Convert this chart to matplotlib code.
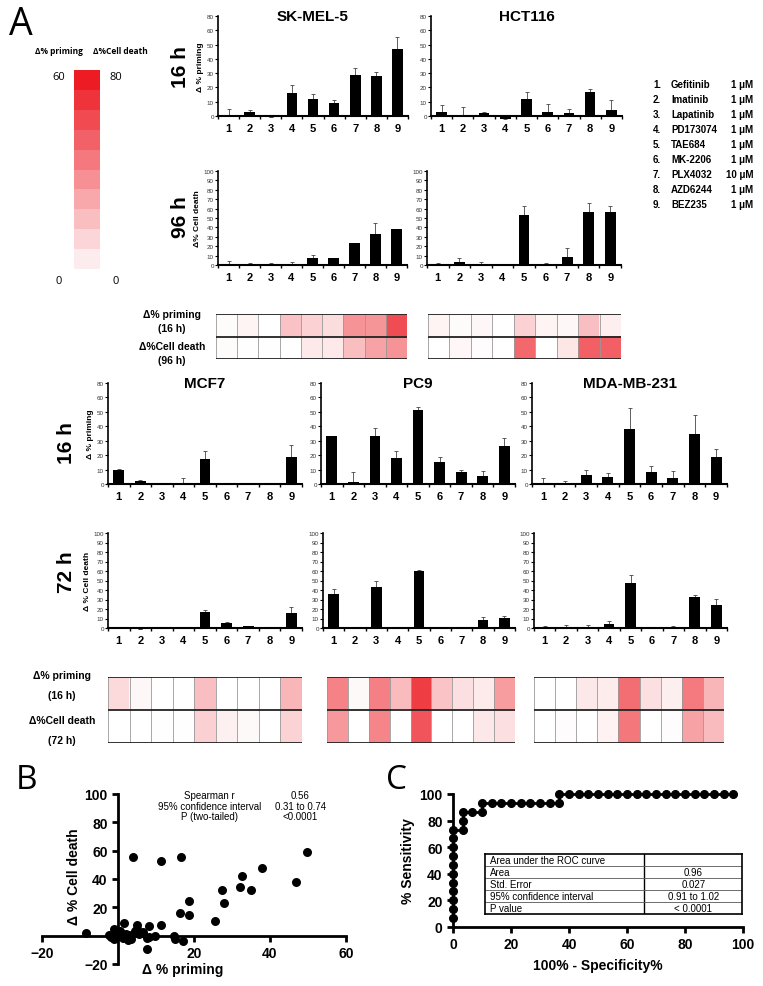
import numpy as np
import matplotlib
matplotlib.use('Agg')
import matplotlib.pyplot as plt
from matplotlib.colors import LinearSegmentedColormap, Normalize
import matplotlib as mpl

W, H = 763, 987
plt.rcParams['font.family'] = ['Liberation Sans', 'DejaVu Sans']

drugs = ['Gefitinib', 'Imatinib', 'Lapatinib', 'PD173074', 'TAE684',
         'MK-2206', 'PLX4032', 'AZD6244', 'BEZ235']
conc = ['1', '1', '1', '1', '1', '1', '10', '1', '1']

# delta % priming (16 h) and delta % cell death (96 h / 72 h), with SEM
skmel5_prim = [1, 3, -1, 16, 12, 9, 28.5, 28, 47]
skmel5_prim_err = [4, 1.5, 0, 6, 3.5, 2, 5, 3, 8]
hct116_prim = [3, 1, 2, -2, 12, 3, 2, 17, 4]
hct116_prim_err = [4.5, 5, 1, 2.5, 4.5, 5.5, 3, 2, 7.5]
skmel5_death = [1.5, 0.5, 0.5, 0, 7.5, 7.5, 23, 32.5, 38]
skmel5_death_err = [3, 1.5, 1.5, 3.5, 3.5, 0, 0, 12.5, 0]
hct116_death = [0, 3, 1, 0, 53, 0, 9, 56, 56]
hct116_death_err = [2, 4, 2, 1, 10, 2, 9, 10, 7]

mcf7_prim = [10, 2, 0, 0, 17, 0, 0, 0, 19]
mcf7_prim_err = [0.5, 0.5, 0, 4, 6, 1, 0, 0, 8]
pc9_prim = [33, 1.5, 33.5, 18, 51, 15.5, 8, 5.5, 26]
pc9_prim_err = [0, 7, 5, 5, 2.5, 3.5, 2, 3.5, 6]
mda_prim = [0, 0, 6, 5, 38, 8, 4, 35, 19]
mda_prim_err = [4, 2, 4, 2.5, 15, 4.5, 5, 13, 5]

mcf7_death = [-0.5, -1, 0.5, 0.5, 16.5, 5, 2, -0.5, 15.5]
mcf7_death_err = [0, 0, 0, 0, 2.5, 1, 0, 0, 6.5]
pc9_death = [36, 0, 43, 0, 60, 0, 0, 8, 11]
pc9_death_err = [5, 0, 7, 1, 1, 0, 0, 4, 1.5]
mda_death = [0, 1, 0, 4.5, 47.5, -0.5, 1, 32.5, 24]
mda_death_err = [2, 2.5, 3.5, 3, 8, 0, 1.5, 2, 6.5]

# panel B scatter (delta % priming, delta % cell death)
scat_prim = [49.7, 37.8, 46.8, 32.5, 32.0, 35.1, 27.4, 28.0, 18.7, 18.6,
             16.4, 25.4, 3.9, 11.4, 16.5, -8.4, 1.7, 4.9, 8.1, 11.2,
             -1.0, -1.9, 0.4, 1.3, 2.8, 4.5, 5.5, 6.5, 7.5, 8.1,
             9.8, 7.5, 14.8, 15.1, 17.0, -0.5, 0.5, 2.0, -2.5, 3.5,
             0.0, 1.0, 5.0, -1.0, 2.5]
scat_death = [59.4, 47.9, 37.8, 42.3, 34.6, 32.2, 32.2, 23.1, 24.5, 14.7,
              15.9, 10.5, 55.3, 52.9, 55.7, 2.0, 9.1, 7.4, 7.0, 7.4,
              4.6, -1.0, 3.4, -1.6, 0.6, 3.0, 1.0, 2.4, -1.6, -1.0,
              0.0, -9.1, 0.0, -2.4, -3.6, 1.0, -0.5, 1.5, 0.5, -2.0,
              2.0, 0.0, 4.5, -2.0, -3.0]
spearman = [['Spearman r', '0.56'], ['95% confidence interval', '0.31 to 0.74'],
            ['P (two-tailed)', '<0.0001']]

# panel C ROC curve points (100% - specificity, % sensitivity)
roc_x = [0, 0, 0, 0, 0, 0, 0, 0, 0, 0, 0, 3.3, 3.3, 3.3, 6.7, 10, 10,
         13.3, 16.7, 20, 23.3, 26.7, 30, 33.3, 36.7, 36.7, 40, 43.3, 46.7,
         50, 53.3, 56.7, 60, 63.3, 66.7, 70, 73.3, 76.7, 80, 83.3, 86.7,
         90, 93.3, 96.7]
roc_y = [6.7, 13.3, 20, 26.7, 33.3, 40, 46.7, 53.3, 60, 66.7, 73.3, 73.3,
         80, 86.7, 86.7, 86.7, 93.3, 93.3, 93.3, 93.3, 93.3, 93.3, 93.3, 93.3,
         93.3, 100, 100, 100, 100, 100, 100, 100, 100, 100, 100, 100, 100, 100,
         100, 100, 100, 100, 100, 100]
roc_table = [['Area under the ROC curve', ''], ['Area', '0.96'],
             ['Std. Error', '0.027'], ['95% confidence interval', '0.91 to 1.02'],
             ['P value', '< 0.0001']]

NARROW = ['Liberation Sans Narrow', 'Liberation Sans', 'DejaVu Sans']
OPEN = ['Open Sans', 'DejaVu Sans']

fig = plt.figure(figsize=(W / 100, H / 100), dpi=100)


def px_axes(x0, y0, x1, y1):
    return fig.add_axes([x0 / W, 1 - y1 / H, (x1 - x0) / W, (y1 - y0) / H])


def ftext(x, y, s, **kw):
    fig.text(x / W, 1 - y / H, s, **kw)


def bar_panel(x0, y0, x1, y1, vals, errs, kind, title=None, ylabel=None):
    ax = px_axes(x0, y0, x1, y1)
    x = np.arange(1, 10)
    ax.bar(x, vals, width=0.5, color='black', clip_on=False, zorder=3)
    ax.errorbar(x, vals, yerr=[np.zeros(9), errs], fmt='none', ecolor='#444444',
                elinewidth=0.6, capsize=1.5, capthick=0.6, zorder=2, clip_on=False)
    ax.set_xlim(0.5, 9.5)
    if kind == 'prim':
        ax.set_ylim(0, 70)
        ax.set_yticks(range(0, 71, 10))
        ax.set_yticklabels(['0', '10', '20', '30', '40', '50', '60', '80'])
    else:
        ax.set_ylim(0, 100)
        ax.set_yticks(range(0, 101, 10))
    ax.set_xticks(x)
    ax.set_xticklabels([str(i) for i in x], fontsize=8, fontweight='bold',
                       family=NARROW)
    ax.set_xticks(np.arange(0.5, 10, 1), minor=True)
    ax.tick_params(axis='x', which='major', length=0, pad=5)
    ax.tick_params(axis='x', which='minor', length=2.5, width=1, direction='out')
    ax.tick_params(axis='y', labelsize=4.5, length=2, width=0.8, pad=1,
                   labelcolor='#333333')
    for s in ['top', 'right']:
        ax.spines[s].set_visible(False)
    ax.spines['left'].set_linewidth(1.2)
    ax.spines['bottom'].set_linewidth(1.5)
    if title:
        ax.text(0.5, 1.0, title, transform=ax.transAxes, fontsize=11,
                fontweight='bold', ha='center', va='center')
    if ylabel:
        ax.set_ylabel(ylabel, fontsize=6, fontweight='bold', labelpad=2)
    return ax


red_cmap = LinearSegmentedColormap.from_list('w2r', ['#ffffff', '#ed1c24'])


def heat_panel(x0, y0, x1, y1, prim, death):
    ax = px_axes(x0, y0, x1, y1)
    c1 = red_cmap(Normalize(0, 60, clip=True)(np.array(prim, float)))
    c2 = red_cmap(Normalize(0, 80, clip=True)(np.array(death, float)))
    ax.imshow(np.array([c1, c2]), aspect='auto', extent=(0, 9, 2, 0),
              interpolation='nearest')
    for i in range(10):
        ax.axvline(i, color='#999999', lw=0.6)
    for j in range(3):
        ax.axhline(j, color='#222222', lw=1.3)
    ax.set_xlim(0, 9)
    ax.set_ylim(2, 0)
    ax.axis('off')


def heat_labels(x, ys, hours):
    lines = ['\u0394% priming', '(16 h)', '\u0394%Cell death', '(%s h)' % hours]
    for y, s in zip(ys, lines):
        ftext(x, y, s, fontsize=7.5, fontweight='bold', ha='center', va='center')


# ---------------- panel A ----------------
ftext(9, 35, 'A', fontsize=27, family=OPEN, va='baseline')
ftext(35, 52, '\u0394% priming', fontsize=6, fontweight='bold',
      family=OPEN, va='center')
ftext(93, 52, '\u0394%Cell death', fontsize=6, fontweight='bold',
      family=OPEN, va='center')
cax = px_axes(74, 71, 100, 270)
cb = mpl.colorbar.ColorbarBase(cax, cmap=LinearSegmentedColormap.from_list(
    'cb', ['#fdeced', '#ed1c24'], N=10), norm=Normalize(0, 60), ticks=[])
cb.outline.set_visible(False)
for x, s in [(59, '60'), (116, '80')]:
    ftext(x, 78, s, fontsize=8, ha='center', va='center', family=OPEN)
for x in [59, 116]:
    ftext(x, 282, '0', fontsize=8, ha='center', va='center', family=OPEN)

bar_panel(218, 17, 408, 117, skmel5_prim, skmel5_prim_err, 'prim',
          'SK-MEL-5', '\u0394 % priming')
bar_panel(431, 17, 622, 117, hct116_prim, hct116_prim_err, 'prim', 'HCT116')
bar_panel(218, 172, 407, 266, skmel5_death, skmel5_death_err, 'death',
          ylabel='\u0394% Cell death')
bar_panel(427, 172, 621, 266, hct116_death, hct116_death_err, 'death')
ftext(180, 67, '16 h', fontsize=15, fontweight='bold', rotation=90,
      ha='center', va='center')
ftext(180, 217, '96 h', fontsize=15, fontweight='bold', rotation=90,
      ha='center', va='center')

for i in range(9):
    y = 85 + i * 15
    ftext(653, y, '%d.' % (i + 1), fontsize=7, fontweight='bold', va='center')
    ftext(671, y, drugs[i], fontsize=7, fontweight='bold', va='center')
    ftext(753, y, conc[i] + ' \u03bcM', fontsize=7, fontweight='bold',
          va='center', ha='right')

heat_panel(216, 315, 407, 360, skmel5_prim, skmel5_death)
heat_panel(428, 315, 621, 360, hct116_prim, hct116_death)
heat_labels(172, [315, 329, 347, 361], '96')

bar_panel(108, 384, 302, 485, mcf7_prim, mcf7_prim_err, 'prim', 'MCF7',
          '\u0394 % priming')
bar_panel(321, 384, 515, 485, pc9_prim, pc9_prim_err, 'prim', 'PC9')
bar_panel(532, 384, 727, 485, mda_prim, mda_prim_err, 'prim', 'MDA-MB-231')
bar_panel(108, 534, 302, 629, mcf7_death, mcf7_death_err, 'death',
          ylabel='\u0394 % Cell death')
bar_panel(323, 534, 515, 629, pc9_death, pc9_death_err, 'death')
bar_panel(534, 534, 727, 629, mda_death, mda_death_err, 'death')
ftext(67, 443, '16 h', fontsize=15, fontweight='bold', rotation=90,
      ha='center', va='center')
ftext(67, 572, '72 h', fontsize=15, fontweight='bold', rotation=90,
      ha='center', va='center')

heat_panel(108, 678, 302, 744, mcf7_prim, mcf7_death)
heat_panel(327, 678, 515, 744, pc9_prim, pc9_death)
heat_panel(534, 678, 724, 744, mda_prim, mda_death)
heat_labels(62, [676, 696, 721, 741], '72')

# ---------------- panel B ----------------
ftext(16, 789, 'B', fontsize=24, family=OPEN, va='baseline')
axb = px_axes(42, 795, 346, 965)
axb.scatter(scat_prim, scat_death, s=42, color='black', zorder=3,
            clip_on=False, linewidths=0)
axb.set_xlim(-20, 60)
axb.set_ylim(-20, 100)
axb.spines['left'].set_position(('data', 0))
axb.spines['bottom'].set_position(('data', 0))
for s in ['top', 'right']:
    axb.spines[s].set_visible(False)
for s in ['left', 'bottom']:
    axb.spines[s].set_linewidth(2)
axb.set_xticks([-20, 20, 40, 60])
axb.set_yticks([-20, 20, 40, 60, 80, 100])
axb.tick_params(labelsize=10, width=2, length=4)
for lab in axb.get_xticklabels() + axb.get_yticklabels():
    lab.set_fontweight('bold')
    lab.set_family(NARROW)
ftext(183, 970, '\u0394 % priming', fontsize=10, fontweight='bold',
      ha='center', va='center')
ftext(74, 877, '\u0394 % Cell death', fontsize=10, fontweight='bold',
      ha='center', va='center', rotation=90)
for i, (l, r) in enumerate(spearman):
    y = 99 - 7.3 * i
    axb.text(24, y, l, fontsize=7, ha='center', va='center', family=NARROW)
    axb.text(48, y, r, fontsize=7, ha='center', va='center', family=NARROW)

# ---------------- panel C ----------------
ftext(386, 789, 'C', fontsize=24, family=OPEN, va='baseline')
axc = px_axes(453, 795, 743, 928)
axc.plot(roc_x, roc_y, color='black', lw=2, marker='o', ms=5.5, clip_on=False)
axc.set_xlim(0, 100)
axc.set_ylim(0, 100)
axc.set_xticks(range(0, 101, 20))
axc.set_yticks(range(0, 101, 20))
for s in ['top', 'right']:
    axc.spines[s].set_visible(False)
for s in ['left', 'bottom']:
    axc.spines[s].set_linewidth(2)
axc.tick_params(labelsize=10, width=2, length=4)
for lab in axc.get_xticklabels() + axc.get_yticklabels():
    lab.set_fontweight('bold')
    lab.set_family(NARROW)
axc.set_xlabel('100% - Specificity%', fontsize=10, fontweight='bold', labelpad=5)
axc.set_ylabel('% Sensitivity', fontsize=10, fontweight='bold', labelpad=3)

tab = axc.inset_axes([11, 10, 88.7, 45], transform=axc.transData)
tab.set_xlim(0, 1)
tab.set_ylim(5, 0)
tab.set_xticks([])
tab.set_yticks([])
for s in tab.spines.values():
    s.set_linewidth(1.2)
tab.patch.set_facecolor('white')
div = (66 - 11) / 88.7
tab.axvline(div, color='black', lw=1)
for i, (l, r) in enumerate(roc_table):
    if i > 0:
        tab.axhline(i, color='#555555', lw=0.6, xmax=div)
        tab.axhline(i, color='#555555', lw=0.6, xmin=div)
    tab.text(0.02, i + 0.5, l, fontsize=7, va='center', family=NARROW)
    tab.text((div + 1) / 2, i + 0.5, r, fontsize=7, va='center', ha='center',
             family=NARROW)

fig.savefig('out.png', dpi=100)
